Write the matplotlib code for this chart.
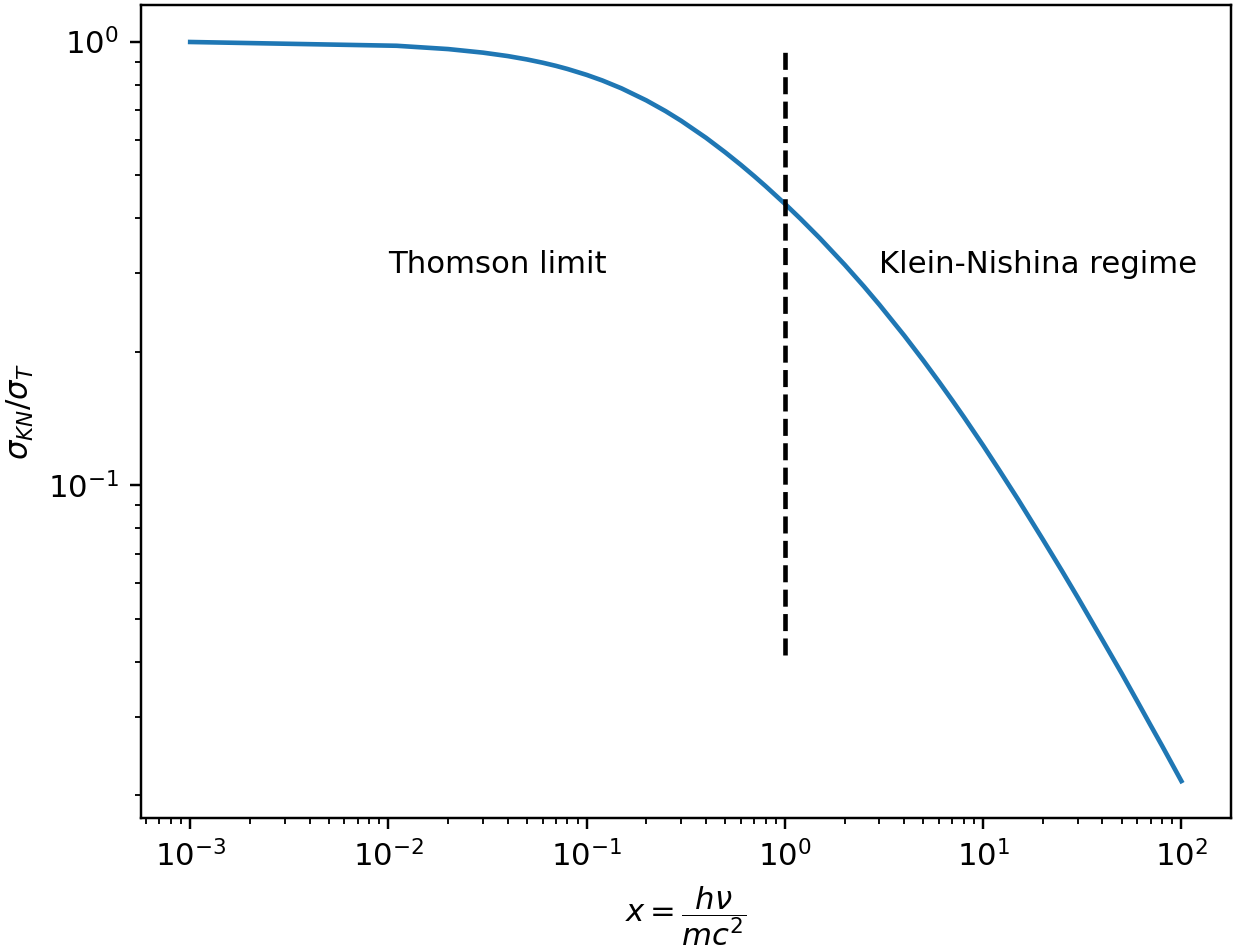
import numpy as np
import matplotlib.pyplot as plt

# values: x = h nu / m c^2, ratio sigma_KN / sigma_T
x_vals = [0.001, 0.011, 0.02, 0.03, 0.04, 0.05, 0.06, 0.07, 0.08, 0.1, 0.12,
          0.15, 0.2, 0.25, 0.3, 0.4, 0.5, 0.6, 0.7, 0.8, 1.0, 1.2, 1.5, 2.0,
          2.5, 3.0, 4.0, 5.0, 6.0, 7.0, 8.0, 10.0, 12.0, 15.0, 20.0, 25.0,
          30.0, 40.0, 50.0, 60.0, 70.0, 80.0, 100.0]
ratio = [0.998, 0.9786, 0.962, 0.9443, 0.9276, 0.9115, 0.8962, 0.8816, 0.8675,
         0.8413, 0.8172, 0.7843, 0.7369, 0.6970, 0.6627, 0.6068, 0.5627, 0.5271,
         0.4973, 0.4719, 0.4307, 0.3983, 0.3603, 0.3141, 0.2807, 0.2549, 0.2173,
         0.1907, 0.1707, 0.1550, 0.1423, 0.1228, 0.1084, 0.0928, 0.0754, 0.0640,
         0.0558, 0.0447, 0.0376, 0.0325, 0.0287, 0.0258, 0.0215]

# dashed marker at x = 1
split_x = 1.0
split_ymin = 0.0413
split_ymax = 0.98

dpi = 221
fig = plt.figure(figsize=(1239 / dpi, 950 / dpi), dpi=dpi)
ax = fig.add_axes([0.1135, 0.1389, 0.880, 0.8558])

ax.plot(x_vals, ratio, color='C0', lw=1.5)
ax.vlines(split_x, split_ymin, split_ymax, colors='k', linestyles='dashed', lw=1.5)
ax.set_xscale('log')
ax.set_yscale('log')

ax.text(0.01, 0.3, 'Thomson limit')
ax.text(3, 0.3, 'Klein-Nishina regime')

ax.set_xlabel(r'$x = \dfrac{h\nu}{mc^2}$')
ax.set_ylabel(r'$\sigma_{KN}/\sigma_T$')

fig.savefig('out.png', dpi=dpi)
